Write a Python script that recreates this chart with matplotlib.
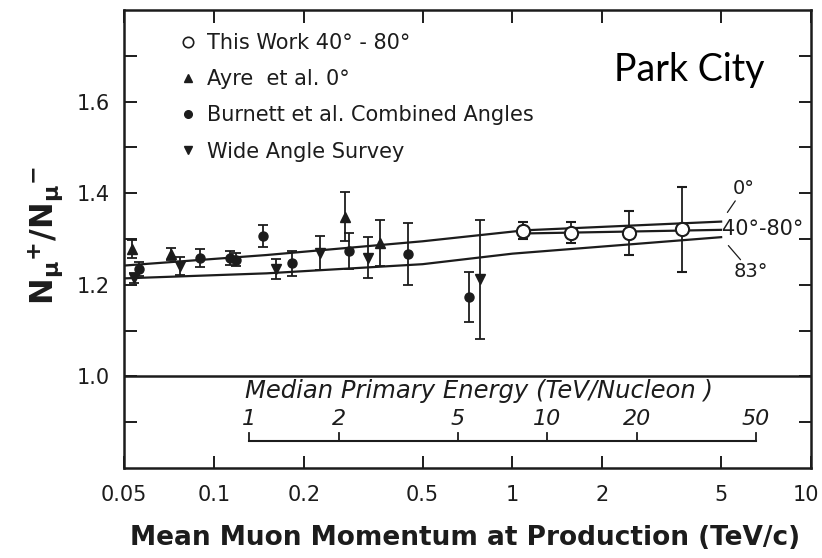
import matplotlib
matplotlib.use("Agg")
import matplotlib.pyplot as plt
from matplotlib.lines import Line2D
from matplotlib.transforms import ScaledTranslation
import numpy as np

# ---------------- data ----------------
this_p = [1.083, 1.571, 2.45, 3.69]
this_r = [1.318, 1.314, 1.314, 1.321]
this_e = [0.019, 0.023, 0.048, 0.092]

ayre_p = [0.053, 0.072, 0.274, 0.359]
ayre_r = [1.278, 1.267, 1.349, 1.292]
ayre_e = [0.020, 0.013, 0.053, 0.050]

burn_p = [0.056, 0.090, 0.113, 0.119, 0.1455, 0.182, 0.284, 0.447, 0.713]
burn_r = [1.234, 1.259, 1.258, 1.255, 1.307, 1.247, 1.274, 1.267, 1.174]
burn_e = [0.015, 0.020, 0.015, 0.015, 0.024, 0.027, 0.040, 0.067, 0.055]

wide_p = [0.054, 0.077, 0.162, 0.226, 0.328, 0.780]
wide_r = [1.215, 1.241, 1.234, 1.270, 1.259, 1.212]
wide_e = [0.010, 0.020, 0.022, 0.037, 0.045, 0.130]

fit0_p = [0.05, 0.15, 0.5, 1.1, 5.0]
fit0_r = [1.242, 1.265, 1.295, 1.319, 1.338]
fit4080_p = [1.08, 5.0]
fit4080_r = [1.312, 1.320]
fit83_p = [0.05, 0.15, 0.5, 1.0, 5.0]
fit83_r = [1.214, 1.225, 1.245, 1.268, 1.304]

xticks = [0.05, 0.1, 0.2, 0.5, 1, 2, 5, 10]
xticklabels = ["0.05", "0.1", "0.2", "0.5", "1", "2", "5", "10"]
yticks = [0.9, 1.0, 1.1, 1.2, 1.3, 1.4, 1.5, 1.6, 1.7]
yticklabels = ["", "1.0", "", "1.2", "", "1.4", "", "1.6", ""]

energy_ticks = [1, 2, 5, 10, 20, 50]
energy_labels = ["1", "2", "5", "10", "20", "50"]
energy_per_momentum = 1 / 0.131   # TeV/nucleon per TeV/c

# ---------------- figure ----------------
C = "#1c1c1c"
plt.rcParams["font.family"] = ["DejaVu Sans"]
fig = plt.figure(figsize=(8.22, 5.58), dpi=100)
ax = fig.add_axes([124 / 822, 1 - 468 / 558, (811 - 124) / 822, (468 - 10) / 558])
ax.set_xscale("log")
ax.set_xlim(0.05, 10)
ax.set_ylim(0.8, 1.8)

for s in ax.spines.values():
    s.set_linewidth(1.8)
    s.set_color(C)

ax.set_xticks(xticks)
ax.set_xticklabels(xticklabels)
ax.xaxis.set_minor_locator(matplotlib.ticker.NullLocator())
ax.set_yticks(yticks)
ax.set_yticklabels(yticklabels)
ax.tick_params(axis="both", which="major", direction="in", length=9, width=1.4,
               colors=C, labelsize=15, top=True, right=True, pad=10)
ax.tick_params(axis="x", pad=12)
# keep the last x label inside the canvas
last = ax.get_xticklabels()[-1]
last.set_transform(last.get_transform() + ScaledTranslation(-5 / 100, 0, fig.dpi_scale_trans))

# fit lines
lw = 1.6
ax.plot(fit0_p, fit0_r, color=C, lw=lw)
ax.plot(fit4080_p, fit4080_r, color=C, lw=lw)
ax.plot(fit83_p, fit83_r, color=C, lw=lw)

ekw = dict(ecolor=C, elinewidth=1.3, capsize=3.5, capthick=1.3, linestyle="none")
ax.errorbar(burn_p, burn_r, yerr=burn_e, fmt="o", ms=6.5, color=C, **ekw)
ax.errorbar(ayre_p, ayre_r, yerr=ayre_e, fmt="^", ms=7, color=C, **ekw)
ax.errorbar(wide_p, wide_r, yerr=wide_e, fmt="v", ms=7, color=C, **ekw)
ax.errorbar(this_p, this_r, yerr=this_e, fmt="o", ms=9.5, mfc="white", mec=C,
            mew=1.5, color=C, **ekw)

# horizontal line at 1.0
ax.axhline(1.0, color=C, lw=1.8)

# line labels
ax.annotate("0°", xy=(fit0_p[-1], fit0_r[-1]), xytext=(5.95, 1.41),
            fontsize=14, color=C, ha="center", va="center",
            arrowprops=dict(arrowstyle="-", color=C, lw=0.9, shrinkA=0, shrinkB=8))
ax.text(5.05, fit4080_r[-1] + 0.001, "40°-80°", fontsize=15, color=C,
        ha="left", va="center")
ax.annotate("83°", xy=(fit83_p[-1], fit83_r[-1]), xytext=(6.3, 1.228),
            fontsize=14, color=C, ha="center", va="center",
            arrowprops=dict(arrowstyle="-", color=C, lw=0.9, shrinkA=0, shrinkB=8))

# secondary (primary energy) scale drawn inside the axes
e_p = [e / energy_per_momentum for e in energy_ticks]
bar_y = 0.86
ax.plot([e_p[0], e_p[-1]], [bar_y, bar_y], color=C, lw=1.5)
for xp, lab in zip(e_p, energy_labels):
    ax.plot([xp, xp], [bar_y, bar_y + 0.016], color=C, lw=1.3)
    ax.text(xp, bar_y + 0.047, lab, fontsize=16, style="italic", color=C,
            ha="center", va="center")
ax.text(0.127, 0.968, "Median Primary Energy (TeV/Nucleon )", fontsize=17.5,
        style="italic", color=C, ha="left", va="center")

# legend
handles = [
    Line2D([], [], ls="none", marker="o", ms=7.5, mfc="white", mec=C, mew=1.2),
    Line2D([], [], ls="none", marker="^", ms=6, color=C),
    Line2D([], [], ls="none", marker="o", ms=5.5, color=C),
    Line2D([], [], ls="none", marker="v", ms=6, color=C),
]
labels = ["This Work 40° - 80°", "Ayre  et al. 0°",
          "Burnett et al. Combined Angles", "Wide Angle Survey"]
leg = ax.legend(handles, labels, loc="upper left", bbox_to_anchor=(0.072, 0.968),
                frameon=False, fontsize=15, handlelength=0.6, handletextpad=0.6,
                labelspacing=0.78, borderaxespad=0)
for t in leg.get_texts():
    t.set_color(C)

# Park City
ax.text(0.933, 0.87, "Park City", transform=ax.transAxes, fontsize=27,
        family="Lato", color="black", ha="right", va="center")

# axis labels
fig.text(465 / 822, 1 - 538 / 558, "Mean Muon Momentum at Production (TeV/c)",
         fontsize=19, fontweight="bold", color=C, ha="center", va="center")
fig.text(45 / 822, 1 - 235 / 558, r"$\mathbf{N_{\mu}{}^{+}/N_{\mu}{}^{-}}$",
         fontsize=23, color=C, rotation=90, ha="center", va="center")

fig.savefig("out.png", dpi=100)
